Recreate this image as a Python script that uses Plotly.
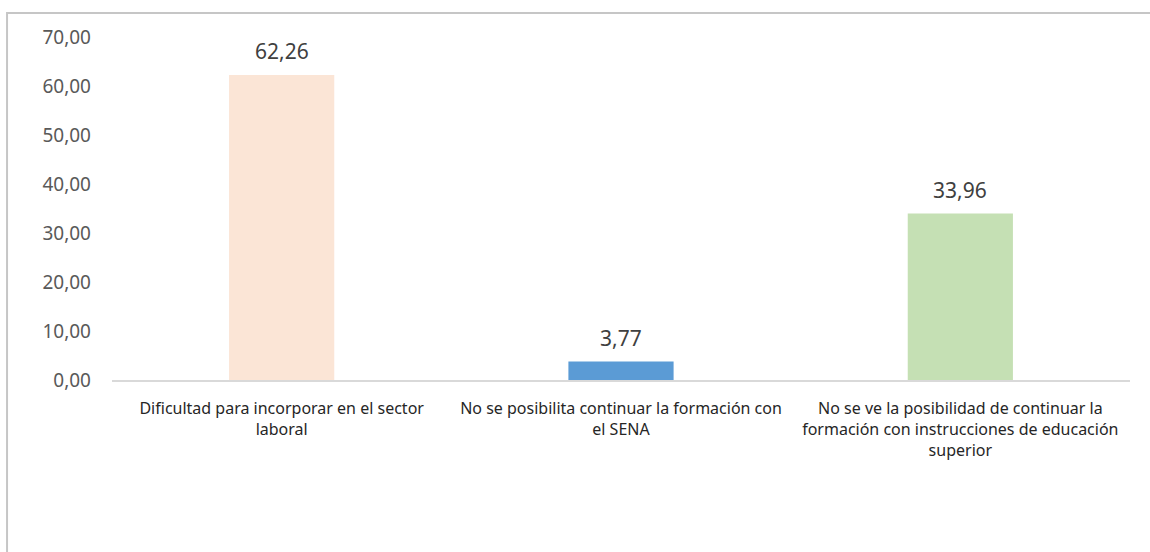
import plotly.graph_objects as go

categories = [
    "Dificultad para incorporar en el sector<br>laboral",
    "No se posibilita continuar la formación con<br>el SENA",
    "No se ve la posibilidad de continuar la<br>formación con instrucciones de educación<br>superior",
]
values = [62.26, 3.77, 33.96]
bar_colors = ["#FBE5D6", "#5B9BD5", "#C5E0B4"]
y_ticks = [0, 10, 20, 30, 40, 50, 60, 70]

FONT = "Noto Sans"

fig = go.Figure()

fig.add_trace(go.Bar(
    x=categories,
    y=values,
    marker_color=bar_colors,
    marker_line_width=0,
    hovertemplate="%{x}<br>%{y:.2f}<extra></extra>",
))

# data labels sit a bit above the bars, like in Excel
for cat, val in zip(categories, values):
    fig.add_annotation(
        x=cat, y=val,
        text=f"{val:.2f}".replace(".", ","),
        showarrow=False,
        yanchor="middle",
        yshift=24,
        font=dict(family=FONT, size=21, color="#404040"),
    )

# chart frame (left and top edges visible only)
fig.add_shape(type="path", xref="paper", yref="paper",
              path="M -0.1031,-1 L -0.1031,1.07 L 1.2,1.07",
              line=dict(color="#c6c6c6", width=2))

fig.update_layout(
    width=1150,
    height=552,
    bargap=0.69,
    separators=",.",
    showlegend=False,
    plot_bgcolor="white",
    paper_bgcolor="white",
    font=dict(family=FONT, size=16, color="#262626"),
    margin=dict(l=112, r=20, t=37, b=172),
    xaxis=dict(
        showline=True,
        linecolor="#d9d9d9",
        linewidth=1.5,
        showgrid=False,
        ticks="",
        ticklabelstandoff=13,
        tickfont=dict(family=FONT, size=16, color="#262626"),
        tickangle=0,
    ),
    yaxis=dict(
        range=[0, 70],
        tickvals=y_ticks,
        tickformat=".2f",
        showgrid=False,
        zeroline=False,
        showline=False,
        ticks="",
        ticklabelstandoff=20,
        tickfont=dict(family=FONT, size=19, color="#595959"),
    ),
)

# drop the default body margin so the figure fills the window
fig.write_html("out.html", config={"displayModeBar": False},
               post_script="document.body.style.margin='0';")
